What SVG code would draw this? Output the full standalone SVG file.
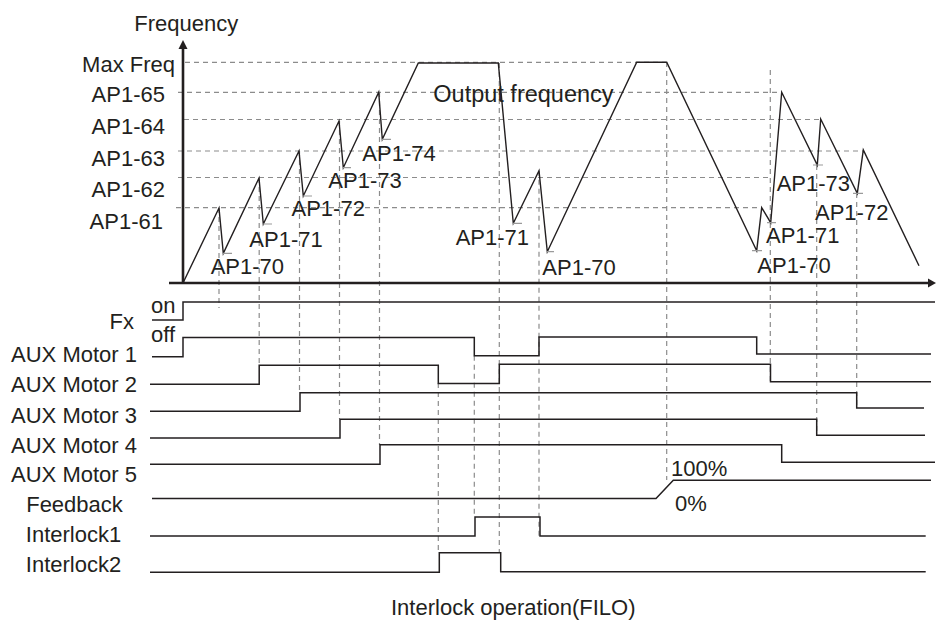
<svg xmlns="http://www.w3.org/2000/svg" width="936" height="623" viewBox="0 0 936 623">
<style>
text{font-family:"Liberation Sans",Arial,sans-serif;font-size:22px;fill:#231f20}
.end{text-anchor:end}
.mid{text-anchor:middle}
.axis{stroke:#231f20;stroke-width:2.6;fill:none}
.wave{stroke:#231f20;stroke-width:1.4;fill:none;stroke-linejoin:miter}
.sig{stroke:#231f20;stroke-width:1.5;fill:none}
.dash{stroke:#8c8c8c;stroke-width:1.2;stroke-dasharray:5 4;fill:none}
.tick{stroke:#9a9a9a;stroke-width:1.2}
</style>
<rect width="936" height="623" fill="#fff"/>
<g id="grid">
<path class="dash" d="M185,62.3H666 M178,92.3H781 M184,119.5H820 M178,151H863 M178,177.5H772 M176,207.7H761"/>
<path class="dash" d="M219,208V308 M259.2,178V365 M299.5,151V393 M339.5,121V419 M379.5,92V445 M438.3,383V552.7 M474.3,355.7V516.7 M499.3,63V553 M539,170.7V536 M666.7,62V480 M770.3,70V381.7 M816.7,165V435 M856.7,193V408"/>
</g>
<g id="axes">
<path class="axis" d="M183,283V48 M169,283H930"/>
<polygon points="183,40 178.5,49 187.5,49" fill="#231f20"/>
<polygon points="936,283 928,278.5 928,287.5" fill="#231f20"/>
</g>
<g id="output-frequency">
<path class="wave" d="M183,283 L219,208 L223.3,253.3 L259,178 L263.3,224 L299,151 L303.3,196 L339,121 L343.3,167.7 L378.7,92.3 L382.3,139.3 L418.3,63 L498.3,63 L513.3,223.3 L539,170.7 L547.3,251.7 L636.7,62.3 L666.7,62.3 L756.7,250.7 L761.7,207.7 L770.7,222.7 L781.7,92.3 L817.3,165 L820.7,119 L857.3,193.3 L863.3,150 L919,265.7"/>
<path class="tick" d="M223,253.3H232 M263,224H272 M303,196H312 M343,167.7H351 M382,139.3H391 M513,223.3H522 M547,251.7H554 M752,250.7H762 M767,222.7H776 M813,165H823 M853,193.3H863"/>
</g>
<g id="freq-labels">
<text x="134.3" y="30.5">Frequency</text>
<text class="end" x="175" y="71.7">Max Freq</text>
<text class="end" x="165" y="101.7">AP1-65</text>
<text class="end" x="165" y="134">AP1-64</text>
<text class="end" x="165" y="165.7">AP1-63</text>
<text class="end" x="165" y="196.7">AP1-62</text>
<text class="end" x="163" y="229.3">AP1-61</text>
</g>
<g id="wave-labels">
<text x="210.7" y="274.3">AP1-70</text>
<text x="249.3" y="246.7">AP1-71</text>
<text x="291.5" y="215.5">AP1-72</text>
<text x="328.3" y="188.3">AP1-73</text>
<text x="362.3" y="160.7">AP1-74</text>
<text x="433.3" y="102.3" style="font-size:23.5px">Output frequency</text>
<text x="455.7" y="245">AP1-71</text>
<text x="542.3" y="275">AP1-70</text>
<text x="776.7" y="190.7">AP1-73</text>
<text x="815" y="220">AP1-72</text>
<text x="766" y="243.3">AP1-71</text>
<text x="757.3" y="273.3">AP1-70</text>
</g>
<g id="fx">
<text class="end" x="134" y="329">Fx</text>
<text x="151" y="313.3">on</text>
<text x="151" y="341.7">off</text>
<path class="sig" d="M152,320H183V302H935"/>
</g>
<g id="aux1">
<text class="mid" x="74" y="362.3">AUX Motor 1</text>
<path class="sig" d="M152,356.7H183V337.6H474.3V355.7H539V336.9H756.7V354H931"/>
</g>
<g id="aux2">
<text class="mid" x="74" y="392.3">AUX Motor 2</text>
<path class="sig" d="M150,384.3H259.2V365.2H438.3V383.5H499.3V364.3H770.5V381.7H931"/>
</g>
<g id="aux3">
<text class="mid" x="74" y="422.7">AUX Motor 3</text>
<path class="sig" d="M150,411.3H300V392.7H856.7V408H924"/>
</g>
<g id="aux4">
<text class="mid" x="74" y="452.7">AUX Motor 4</text>
<path class="sig" d="M150,438H340V419.3H816.7V435.3H925"/>
</g>
<g id="aux5">
<text class="mid" x="74" y="482.3">AUX Motor 5</text>
<path class="sig" d="M150,464.3H380V444.8H781.7V462.3H935"/>
</g>
<g id="feedback">
<text class="mid" x="74.5" y="512.3">Feedback</text>
<text x="671" y="476">100%</text>
<text x="675" y="510.7">0%</text>
<path class="sig" d="M152,498.5H656L673.3,480.3H931"/>
</g>
<g id="interlock1">
<text class="mid" x="73.5" y="542.3">Interlock1</text>
<path class="sig" d="M150,536H475V517H540V536H925.7"/>
</g>
<g id="interlock2">
<text class="mid" x="73.5" y="572.3">Interlock2</text>
<path class="sig" d="M150,572.2H439.3V552.7H500.7V571.8H925.7"/>
</g>
<text id="caption" x="391" y="615">Interlock operation(FILO)</text>
</svg>
